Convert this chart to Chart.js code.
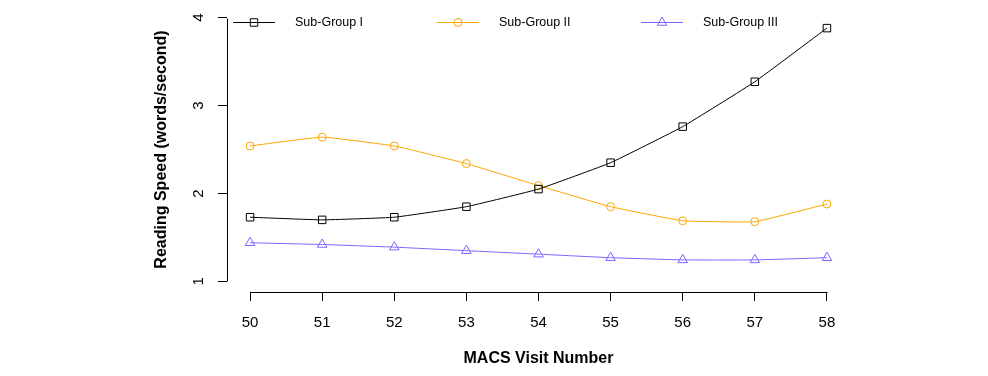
<!DOCTYPE html>
<html>
<head>
<meta charset="utf-8">
<script src="https://cdn.jsdelivr.net/npm/chart.js@4/dist/chart.umd.min.js"></script>
<style>
  html, body { margin: 0; padding: 0; background: #fff; }
  #wrap { width: 988px; height: 376px; }
</style>
</head>
<body>
<div id="wrap"><canvas id="speed" width="988" height="376"></canvas></div>
<script>
// data
let visits = [50, 51, 52, 53, 54, 55, 56, 57, 58];
let groupI = [1.73, 1.70, 1.73, 1.85, 2.05, 2.35, 2.76, 3.27, 3.88];
let groupII = [2.54, 2.64, 2.54, 2.34, 2.09, 1.85, 1.69, 1.68, 1.88];
let groupIII = [1.44, 1.42, 1.39, 1.35, 1.31, 1.27, 1.245, 1.245, 1.27];
let names = ['Sub-Group I', 'Sub-Group II', 'Sub-Group III'];
let xTicks = [50, 51, 52, 53, 54, 55, 56, 57, 58];
let yTicks = [1, 2, 3, 4];

let colors = ['#000000', '#FFA500', '#7766FF'];
let styles = ['rect', 'circle', 'triangle'];
let radii = [5.3, 4, 5.5];
let series = [groupI, groupII, groupIII];

const FONT = '"Liberation Sans", Arial, Helvetica, sans-serif';

let datasets = [];
for (let i = 0; i < 3; i++) {
    datasets.push({
        label: names[i],
        data: visits.map((v, k) => ({x: v, y: series[i][k]})),
        borderColor: colors[i],
        backgroundColor: 'rgba(0,0,0,0)',
        borderWidth: 1,
        tension: 0.1,
        pointStyle: styles[i],
        pointRadius: radii[i],
        pointBorderWidth: 1,
        pointBorderColor: colors[i],
        pointBackgroundColor: 'rgba(0,0,0,0)'
    });
}

// R style axes: line only across the tick range, plus a legend row inside the plot
const rAxes = {
    id: 'rAxes',
    afterDatasetsDraw(chart) {
        const ctx = chart.ctx;
        const xs = chart.scales.x, ys = chart.scales.y;
        const area = chart.chartArea;
        ctx.save();
        ctx.strokeStyle = '#000';
        ctx.lineWidth = 1;
        ctx.beginPath();
        ctx.moveTo(Math.round(xs.getPixelForValue(xTicks[0])) + 0.5, Math.round(area.bottom) + 0.5);
        ctx.lineTo(Math.round(xs.getPixelForValue(xTicks[xTicks.length - 1])) + 0.5, Math.round(area.bottom) + 0.5);
        ctx.moveTo(Math.round(area.left) + 0.5, Math.round(ys.getPixelForValue(yTicks[0])) + 0.5);
        ctx.lineTo(Math.round(area.left) + 0.5, Math.round(ys.getPixelForValue(yTicks[yTicks.length - 1])) + 0.5);
        ctx.stroke();

        // legend
        const ly = 22.5;
        ctx.font = '12.5px ' + FONT;
        ctx.textBaseline = 'middle';
        ctx.textAlign = 'left';
        chart.data.datasets.forEach((ds, i) => {
            const x0 = area.left + 6 + i * 204;
            ctx.strokeStyle = ds.borderColor;
            ctx.beginPath();
            ctx.moveTo(x0, ly);
            ctx.lineTo(x0 + 42, ly);
            ctx.stroke();
            ctx.fillStyle = 'rgba(0,0,0,0)';
            Chart.helpers.drawPoint(ctx, {pointStyle: ds.pointStyle, radius: ds.pointRadius, rotation: 0, borderWidth: 1}, x0 + 21, ly);
            ctx.fillStyle = '#000';
            ctx.fillText(ds.label, x0 + 62, ly);
        });
        ctx.restore();
    }
};

new Chart(document.getElementById('speed'), {
    type: 'line',
    data: {datasets: datasets},
    options: {
        responsive: false,
        animation: false,
        layout: {padding: {left: 0, right: 138, top: 7, bottom: 0}},
        plugins: {legend: {display: false}, tooltip: {enabled: false}},
        scales: {
            x: {
                type: 'linear',
                min: 49.68,
                max: 58.32,
                afterBuildTicks: (s) => { s.ticks = xTicks.map(v => ({value: v})); },
                afterFit: (s) => { s.height = 84; s.paddingLeft = 0; s.paddingRight = 0; },
                border: {display: false},
                grid: {drawOnChartArea: false, drawTicks: true, tickLength: 9, color: '#000'},
                ticks: {
                    color: '#000', padding: 13, maxRotation: 0, autoSkip: false,
                    font: {family: FONT, size: 15}
                },
                title: {
                    display: true, text: 'MACS Visit Number', color: '#000',
                    font: {family: FONT, size: 16, weight: 'bold'},
                    padding: {top: 0, bottom: 8}
                }
            },
            y: {
                type: 'linear',
                min: 0.88,
                max: 4.12,
                afterBuildTicks: (s) => { s.ticks = yTicks.map(v => ({value: v})); },
                afterFit: (s) => { s.width = 227; s.paddingTop = 0; s.paddingBottom = 0; },
                border: {display: false},
                grid: {drawOnChartArea: false, drawTicks: true, tickLength: 9, color: '#000'},
                ticks: {
                    color: '#000', padding: 15, minRotation: 90, maxRotation: 90,
                    crossAlign: 'center', autoSkip: false,
                    font: {family: FONT, size: 15}
                },
                title: {
                    display: true, text: 'Reading Speed (words/second)', color: '#000',
                    font: {family: FONT, size: 16, weight: 'bold'},
                    padding: {top: 152, bottom: 0}
                }
            }
        }
    },
    plugins: [rAxes]
});
</script>
</body>
</html>
